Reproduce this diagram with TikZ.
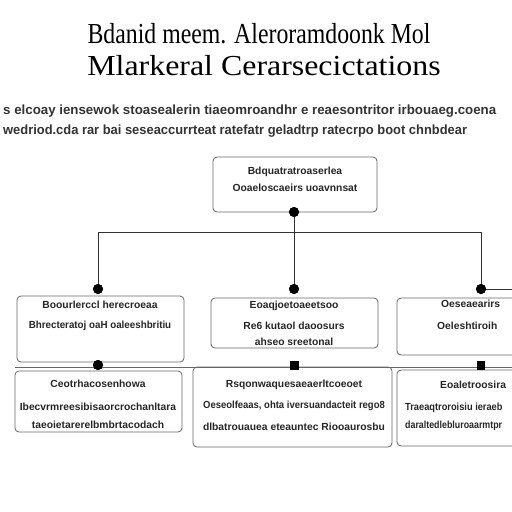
\documentclass[tikz,border=0pt]{standalone}
\usepackage{fontspec}
\setmainfont{Liberation Serif}
\setsansfont{Liberation Sans}
\begin{document}
\begin{tikzpicture}[x=1pt,y=-1pt,
  box/.style={draw=black!60,line width=0.8pt,rounded corners=4pt,inner sep=0pt},
  txt/.style={font=\sffamily\bfseries\fontsize{10.3}{12}\selectfont,text=black!85,inner sep=0pt,anchor=center},
  ttl/.style={font=\fontsize{29}{32}\selectfont,inner sep=0pt,anchor=base},
  sub/.style={font=\sffamily\bfseries\fontsize{13.3}{15}\selectfont,text=black!80,inner sep=0pt,anchor=base west},
  dot/.style={circle,fill=black,inner sep=0pt,minimum size=10pt},
  sq/.style={rectangle,fill=black,inner sep=0pt,minimum size=9pt},
  link/.style={draw=black!80,line width=1pt}]
\useasboundingbox (0,0) rectangle (512,512);
\clip (0,0) rectangle (512,512);
\fill[white] (0,0) rectangle (512,512);
% title
\node[ttl] (t1) at (259,43) {\scalebox{0.82}[1]{Bdanid meem. Aleroramdoonk Mol}};
\node[ttl] (t2) at (264,75) {\scalebox{1.1}[1]{Mlarkeral Cerarsecictations}};
\node[sub] (s1) at (3,114) {s elcoay iensewok stoasealerin tiaeomroandhr e reaesontritor irbouaeg.coena};
\node[sub] (s2) at (3,134) {\scalebox{0.97}[1]{wedriod.cda rar bai seseaccurrteat ratefatr geladtrp ratecrpo boot chnbdear}};
% boxes
\node[box,minimum width=164pt,minimum height=55pt] (top) at (295,184.5) {};
\node[box,minimum width=167pt,minimum height=66pt] (b1) at (100.5,329) {};
\node[box,minimum width=167pt,minimum height=50pt] (b2) at (294.5,323) {};
\node[box,minimum width=130pt,minimum height=57pt] (b3) at (462,326.5) {};
\node[box,minimum width=167pt,minimum height=61pt] (c1) at (98.5,401.5) {};
\node[box,minimum width=199pt,minimum height=80pt] (c2) at (292.5,407) {};
\node[box,minimum width=130pt,minimum height=76pt] (c3) at (462,408) {};
% texts
\node[txt] (tt1) at (295,172) {Bdquatratroaserlea};
\node[txt] (tt2) at (295,188) {Ooaeloscaeirs uoavnnsat};
\node[txt] (b1a) at (100,305) {Boourlerccl herecroeaa};
\node[txt] (b1b) at (100,326) {\scalebox{0.95}[1]{Bhrecteratoj oaH oaleeshbritiu}};
\node[txt] (b2a) at (294,306) {Eoaqjoetoaeetsoo};
\node[txt] (b2b) at (294,326) {Re6 kutaol daoosurs};
\node[txt] (b2c) at (294,342) {ahseo sreetonal};
\node[txt,anchor=west] (b3a) at (441,304) {Oeseaearirs};
\node[txt,anchor=west] (b3b) at (437,326) {Oeleshtiroih};
\node[txt] (c1a) at (98,384) {Ceotrhacosenhowa};
\node[txt] (c1b) at (98,407) {Ibecvrmreesibisaorcrochanltara};
\node[txt] (c1c) at (98,425) {taeoietarerelbmbrtacodach};
\node[txt] (c2a) at (294,385) {Rsqonwaquesaeaerltcoeoet};
\node[txt] (c2b) at (294,406) {\scalebox{0.92}[1]{Oeseolfeaas, ohta iversuandacteit rego8}};
\node[txt] (c2c) at (294,427) {dlbatrouauea eteauntec Riooaurosbu};
\node[txt,anchor=west] (c3a) at (440,385) {Eoaletroosira};
\node[txt,anchor=west] (c3b) at (405,408) {\scalebox{0.9}[1]{Traeaqtroroisiu ieraeb}};
\node[txt,anchor=west] (c3c) at (405,426) {\scalebox{0.86}[1]{daraltedlebluroaarmtpr}};
% connector points
\coordinate (h0) at (294,232);
\coordinate (hl) at (98,232);
\coordinate (hr) at (481,232);
\node[dot] (d0) at (294,212) {};
\node[dot] (d1) at (98,289) {};
\node[dot] (d2) at (294,289) {};
\node[dot] (d3) at (481,289) {};
\coordinate (r3) at (512,289);
\node[dot] (e1) at (98,365) {};
\node[sq] (e2) at (294,365) {};
\node[sq,minimum width=8pt] (e3) at (481,365) {};
\coordinate (ll) at (15,367);
\coordinate (lr) at (512,367);
\path[link] (d0) -- (d2);
\path[link] (hl) -- (hr);
\path[link] (hl) -- (d1);
\path[link] (hr) -- (d3);
\path[link] (d3) -- (r3);
\path[link,draw=black!60] (ll) -- (lr);
\node[dot] at (d0) {};
\node[dot] at (d1) {};
\node[dot] at (d2) {};
\node[dot] at (d3) {};
\node[dot] at (e1) {};
\node[sq] at (e2) {};
\node[sq,minimum width=8pt] at (e3) {};
\end{tikzpicture}
\end{document}
